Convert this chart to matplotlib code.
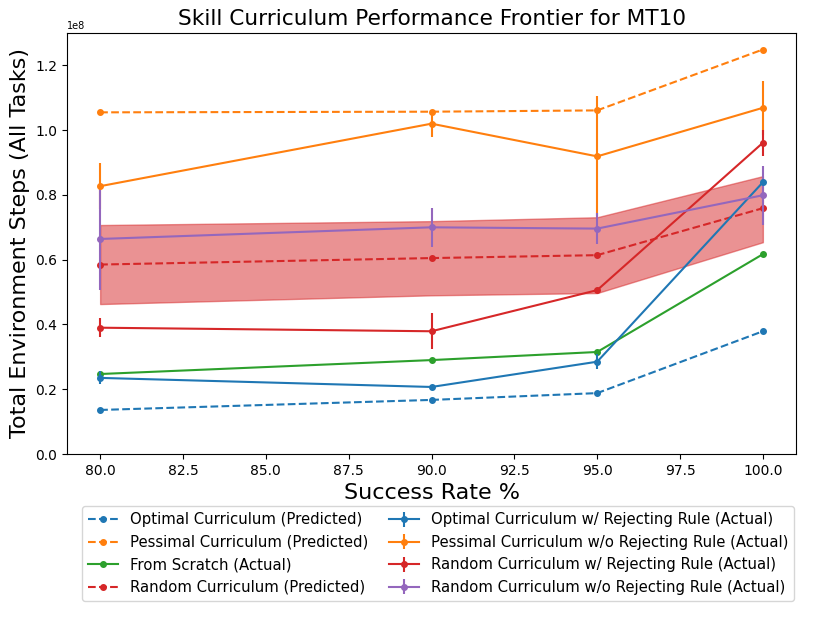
import matplotlib
matplotlib.use("Agg")
import matplotlib.pyplot as plt
import numpy as np

# success rate thresholds (x axis)
rates = [80, 90, 95, 100]

# predicted curves
optimal_pred = [0.136e8, 0.167e8, 0.188e8, 0.379e8]
pessimal_pred = [1.055e8, 1.057e8, 1.061e8, 1.249e8]
random_pred = [0.585e8, 0.605e8, 0.614e8, 0.759e8]
random_pred_lo = [0.463e8, 0.490e8, 0.497e8, 0.654e8]
random_pred_hi = [0.707e8, 0.719e8, 0.731e8, 0.858e8]

# actual curves
scratch = [0.247e8, 0.290e8, 0.315e8, 0.617e8]
optimal_act = [0.235e8, 0.207e8, 0.285e8, 0.839e8]
optimal_err = [0.020e8, 0.004e8, 0.023e8, 0.010e8]
pessimal_act = [0.827e8, 1.020e8, 0.919e8, 1.069e8]
pessimal_err = [0.071e8, 0.040e8, 0.185e8, 0.084e8]
random_rej = [0.390e8, 0.379e8, 0.506e8, 0.961e8]
random_rej_err = [0.029e8, 0.055e8, 0.006e8, 0.040e8]
random_norej = [0.664e8, 0.700e8, 0.696e8, 0.799e8]
random_norej_err = [0.158e8, 0.060e8, 0.048e8, 0.091e8]

fig = plt.figure(figsize=(8.3, 6.23), dpi=100)
ax = fig.add_axes([67/830, 1 - 454/623, (796-67)/830, (454-33)/623])

ax.plot(rates, optimal_pred, '--', marker='.', ms=8, color='tab:blue', label='Optimal Curriculum (Predicted)')
ax.plot(rates, pessimal_pred, '--', marker='.', ms=8, color='tab:orange', label='Pessimal Curriculum (Predicted)')
ax.plot(rates, scratch, '-', marker='.', ms=8, color='tab:green', label='From Scratch (Actual)')
ax.plot(rates, random_pred, '--', marker='.', ms=8, color='tab:red', label='Random Curriculum (Predicted)')
ax.fill_between(rates, random_pred_lo, random_pred_hi, color='tab:red', alpha=0.5)

ax.errorbar(rates, optimal_act, yerr=optimal_err, marker='.', ms=8, color='tab:blue',
            label='Optimal Curriculum w/ Rejecting Rule (Actual)')
ax.errorbar(rates, pessimal_act, yerr=pessimal_err, marker='.', ms=8, color='tab:orange',
            label='Pessimal Curriculum w/o Rejecting Rule (Actual)')
ax.errorbar(rates, random_rej, yerr=random_rej_err, marker='.', ms=8, color='tab:red',
            label='Random Curriculum w/ Rejecting Rule (Actual)')
ax.errorbar(rates, random_norej, yerr=random_norej_err, marker='.', ms=8, color='tab:purple',
            label='Random Curriculum w/o Rejecting Rule (Actual)')

ax.set_xlim(79, 101)
ax.set_ylim(0, 1.3e8)
ax.set_xticks(np.arange(80, 100.1, 2.5))
ax.set_title('Skill Curriculum Performance Frontier for MT10', fontsize=15.6)
ax.set_xlabel('Success Rate %', fontsize=16)
ax.set_ylabel('Total Environment Steps (All Tasks)', fontsize=16)
ax.tick_params(labelsize=10)
ax.yaxis.get_offset_text().set_fontsize(7)

ax.legend(loc='upper center', bbox_to_anchor=(0.509, -0.107), ncol=2, fontsize=10.7,
          columnspacing=1.4, handlelength=2)

fig.savefig('out.png', dpi=100)
